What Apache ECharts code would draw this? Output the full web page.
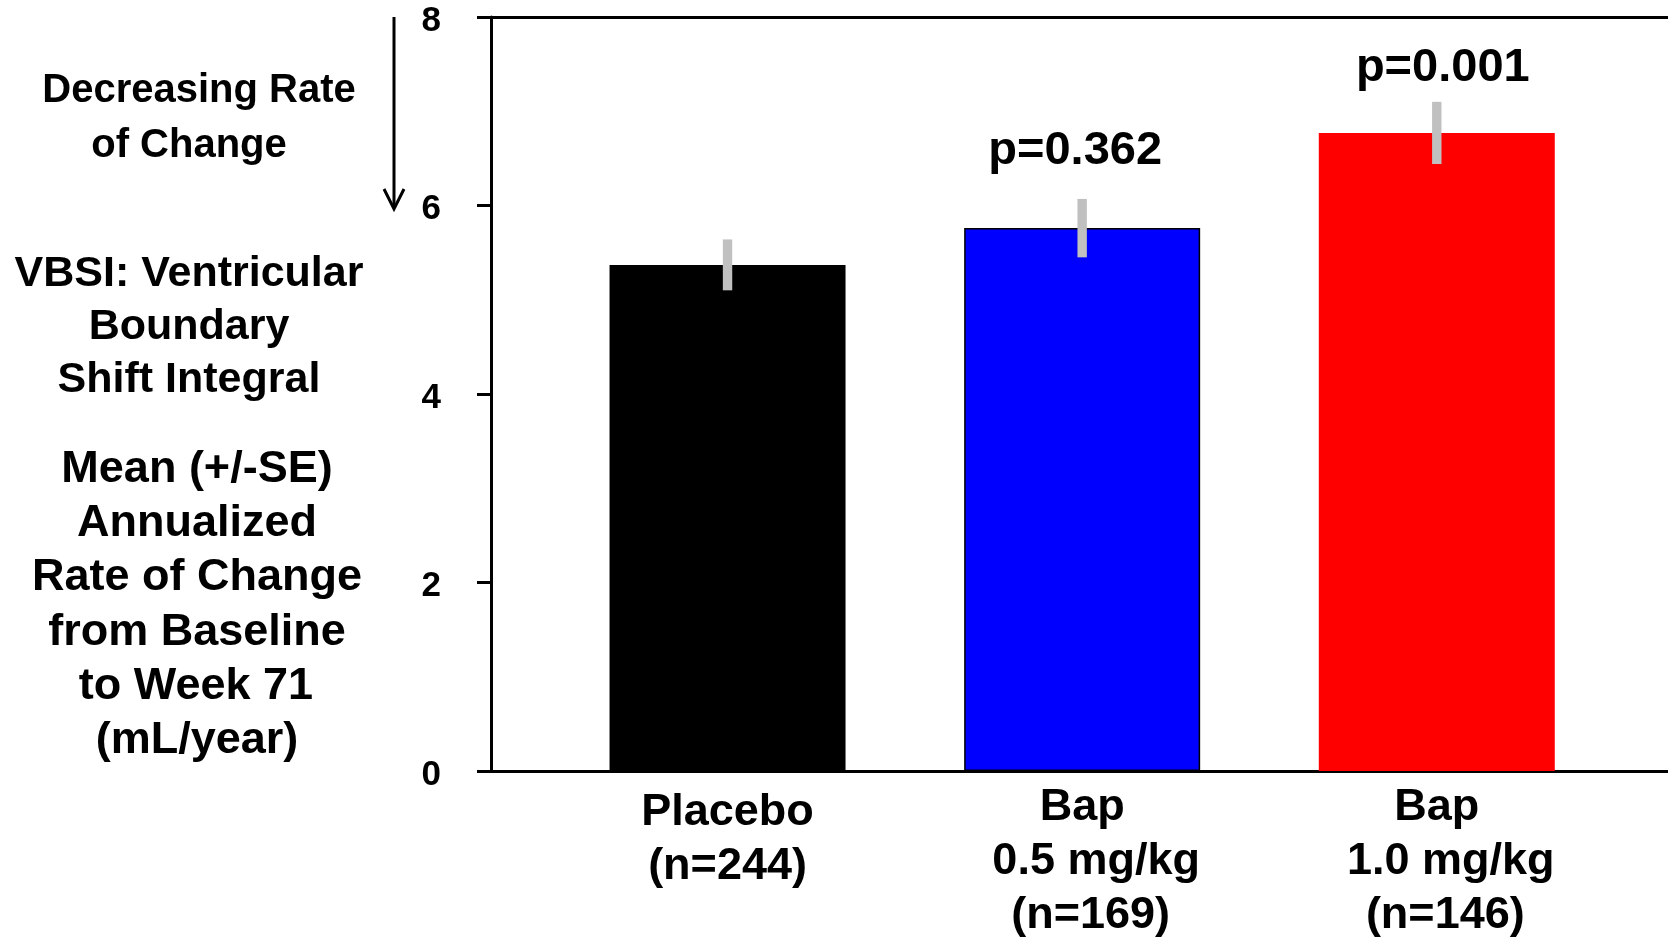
<!DOCTYPE html>
<html lang="en">
<head>
<meta charset="UTF-8">
<title>VBSI Annualized Rate of Change</title>
<script src="https://cdn.jsdelivr.net/npm/echarts@6/dist/echarts.min.js"></script>
<style>
    html, body {
        margin: 0;
        padding: 0;
        width: 100%;
        height: 100%;
        background: #fff;
        overflow: hidden;
    }
    #chart {
        width: 1668px;
        height: 938px;
    }
</style>
</head>
<body>
<div id="chart"></div>
<script>
// Treatment groups (x axis)
var groups = ['Placebo\n(n=244)', 'Bap\n0.5 mg/kg\n(n=169)', 'Bap\n1.0 mg/kg\n(n=146)'];
// Mean annualized rate of change from baseline to week 71 (mL/year)
var means = [5.37, 5.76, 6.77];
// Standard error of the mean
var stdErr = [0.27, 0.31, 0.33];
// p-values vs placebo
var pValues = ['', 'p=0.362', 'p=0.001'];

var FONT = '"Liberation Sans", Arial, sans-serif';
var barColors = ['#000000', '#0000ff', '#ff0000'];
// nudges for the p-value text, relative to the top of the error bar
var pNudge = [[0, 0], [-7, -48], [6, -34]];

// Text notes on the left of the plot
var notes = [
    { t: 'Decreasing Rate', x: 199, y: 91, s: 40 },
    { t: 'of Change', x: 189, y: 146, s: 40 },
    { t: 'VBSI: Ventricular', x: 189, y: 274, s: 43 },
    { t: 'Boundary', x: 189, y: 327, s: 43 },
    { t: 'Shift Integral', x: 189, y: 380, s: 43 },
    { t: 'Mean (+/-SE)', x: 197, y: 470, s: 45 },
    { t: 'Annualized', x: 197, y: 524, s: 45 },
    { t: 'Rate of Change', x: 197, y: 578, s: 45 },
    { t: 'from Baseline', x: 197, y: 633, s: 45 },
    { t: 'to Week 71', x: 196, y: 687, s: 45 },
    { t: '(mL/year)', x: 197, y: 741, s: 45 }
];

var chart = echarts.init(document.getElementById('chart'));

var barData = means.map(function (m, i) {
    return {
        value: [i, m],
        itemStyle: {
            color: barColors[i],
            borderColor: '#000',
            borderWidth: i === 1 ? 1.5 : 0
        }
    };
});
var errData = means.map(function (m, i) { return [i, m, stdErr[i]]; });

var graphics = notes.map(function (n) {
    return {
        type: 'text',
        x: n.x,
        y: n.y,
        style: {
            text: n.t,
            font: 'bold ' + n.s + 'px ' + FONT,
            fill: '#000',
            align: 'center',
            verticalAlign: 'middle'
        }
    };
});
// "decreasing" arrow
graphics.push({
    type: 'polyline',
    shape: { points: [[394, 17], [394, 207]] },
    style: { stroke: '#000', lineWidth: 3, fill: null }
});
graphics.push({
    type: 'polyline',
    shape: { points: [[384, 189], [394, 209], [404, 189]] },
    style: { stroke: '#000', lineWidth: 3, fill: null }
});

var labelStyle = {
    color: '#000',
    fontFamily: FONT,
    fontWeight: 'bold',
    fontSize: 45,
    lineHeight: 54,
    verticalAlign: 'top',
    formatter: function (v) { return groups[Math.round(v)]; }
};

// the dose and n lines of the Bap labels sit a bit right of centre
var bapLabel = Object.assign({}, labelStyle, {
    formatter: function (v) {
        return groups[Math.round(v)].split('\n').map(function (s, k) {
            return '{l' + k + '|' + s + '}';
        }).join('\n');
    },
    rich: {
        l0: {},
        l1: { padding: [0, 0, 0, 28] },
        l2: { padding: [0, 0, 0, 17] }
    }
});

var plainAxis = {
    type: 'value',
    min: -0.667,
    max: 2.652,
    axisLine: { show: true, onZero: false, lineStyle: { color: '#000', width: 3 } },
    axisTick: { show: false },
    splitLine: { show: false }
};

var option = {
    animation: false,
    backgroundColor: '#fff',
    grid: { left: 491, right: 0, top: 17, bottom: 167, outerBoundsMode: 'none', containLabel: false },
    xAxis: [
        Object.assign({}, plainAxis, {
            position: 'bottom',
            axisLabel: Object.assign({}, bapLabel, { customValues: [1, 2], margin: 10 })
        }),
        Object.assign({}, plainAxis, {
            position: 'top',
            axisLabel: { show: false }
        }),
        // placebo label sits a little lower than the others
        Object.assign({}, plainAxis, {
            position: 'bottom',
            axisLine: { show: false },
            axisLabel: Object.assign({}, labelStyle, { customValues: [0], margin: 15 })
        })
    ],
    yAxis: {
        type: 'value',
        min: 0,
        max: 8,
        interval: 2,
        axisLine: { show: true, onZero: false, lineStyle: { color: '#000', width: 3 } },
        axisTick: { show: true, inside: false, length: 14, lineStyle: { color: '#000', width: 3 } },
        splitLine: { show: false },
        axisLabel: {
            margin: 50,
            verticalAlign: 'top',
            lineHeight: 8,
            color: '#000',
            fontFamily: FONT,
            fontWeight: 'bold',
            fontSize: 35
        }
    },
    graphic: graphics,
    series: [
        {
            name: 'Mean',
            type: 'bar',
            barWidth: 236,
            data: barData
        },
        {
            name: 'SE',
            type: 'custom',
            encode: { x: 0, y: 1 },
            data: errData,
            z: 5,
            renderItem: function (params, api) {
                var i = api.value(0);
                var m = api.value(1);
                var se = api.value(2);
                var top = api.coord([i, m + se]);
                var bot = api.coord([i, m - se]);
                var children = [{
                    type: 'rect',
                    shape: { x: top[0] - 4.7, y: top[1], width: 9.4, height: bot[1] - top[1] },
                    style: { fill: '#c0c0c0' }
                }];
                if (pValues[i]) {
                    children.push({
                        type: 'text',
                        x: top[0] + pNudge[i][0],
                        y: top[1] + pNudge[i][1],
                        style: {
                            text: pValues[i],
                            font: 'bold 47px ' + FONT,
                            fill: '#000',
                            align: 'center',
                            verticalAlign: 'middle'
                        }
                    });
                }
                return { type: 'group', children: children };
            }
        }
    ]
};

chart.setOption(option);
</script>
</body>
</html>
